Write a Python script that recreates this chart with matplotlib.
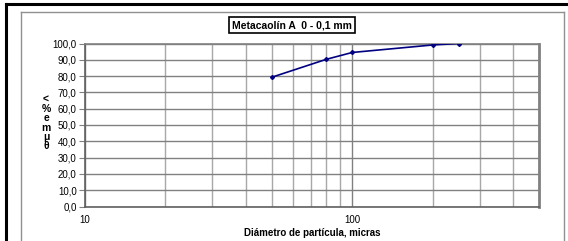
import matplotlib
matplotlib.use("Agg")
import matplotlib.pyplot as plt
from matplotlib.lines import Line2D
from matplotlib.ticker import FixedLocator, FuncFormatter, NullFormatter

plt.rcParams['font.family'] = ['Liberation Sans', 'DejaVu Sans']

# particle size data
diam = [50, 80, 100, 200, 250]
passing = [79.3, 90.3, 94.5, 99.1, 100.0]
y_ticks = [0, 10, 20, 30, 40, 50, 60, 70, 80, 90, 100]
x_major = [10, 100]
x_minor = [20, 30, 40, 50, 60, 70, 80, 90, 200, 300, 400]

W, H = 568, 241
fig = plt.figure(figsize=(W / 100, H / 100), dpi=100)

# outer frame lines
fig.add_artist(Line2D([6 / W, 1], [1 - 4 / H, 1 - 4 / H], color='black', lw=2.2))
fig.add_artist(Line2D([6 / W, 6 / W], [0, 1 - 4 / H], color='black', lw=2.2))
# chart area frame (gray)
fig.add_artist(Line2D([21 / W, 564 / W], [1 - 12 / H, 1 - 12 / H], color='#909090', lw=1))
fig.add_artist(Line2D([21 / W, 21 / W], [0, 1 - 12 / H], color='#909090', lw=1))
fig.add_artist(Line2D([564 / W, 564 / W], [0, 1 - 12 / H], color='#909090', lw=1))

ax = fig.add_axes([85 / W, 1 - 206.5 / H, (539 - 85) / W, (206.5 - 43.5) / H])
ax.set_xscale('log')
ax.set_xlim(10, 500)
ax.set_ylim(0, 100)

ax.plot(diam, passing, color='#000080', lw=1.2, marker='D', ms=2, zorder=5)

ax.xaxis.set_major_locator(FixedLocator(x_major))
ax.xaxis.set_minor_locator(FixedLocator(x_minor))
ax.xaxis.set_major_formatter(FuncFormatter(lambda v, p: f"{v:g}"))
ax.xaxis.set_minor_formatter(NullFormatter())
ax.set_yticks(y_ticks)
ax.yaxis.set_major_formatter(FuncFormatter(lambda v, p: f"{v:.1f}".replace('.', ',')))

ax.grid(True, which='major', color='#808080', lw=1)
ax.grid(True, which='minor', axis='x', color='#a8a8a8', lw=1)
ax.tick_params(axis='y', length=4, width=0.8, color='#808080', labelsize=7, pad=2)
ax.tick_params(axis='x', which='both', length=0, labelsize=7, pad=6)
for s in ax.spines.values():
    s.set_color('#808080')
    s.set_linewidth(1.2)
ax.spines['right'].set_linewidth(2)
ax.spines['left'].set_color('#606060')
ax.spines['bottom'].set_color('#606060')

ax.set_xlabel('Diámetro de partícula, micras', fontsize=7, fontweight='bold', labelpad=2)

# stacked y label
fig.text(46 / W, 1 - 123 / H, "<\n%\ne\nm\nμ\nθ", fontsize=7.5, fontweight='bold',
         ha='center', va='center', linespacing=0.92)

fig.text(292 / W, 1 - 25 / H, 'Metacaolín A  0 - 0,1 mm', fontsize=7.5, fontweight='bold',
         ha='center', va='center',
         bbox=dict(boxstyle='square,pad=0.25', fc='white', ec='black', lw=1.2))

fig.savefig('out.png', dpi=100)
